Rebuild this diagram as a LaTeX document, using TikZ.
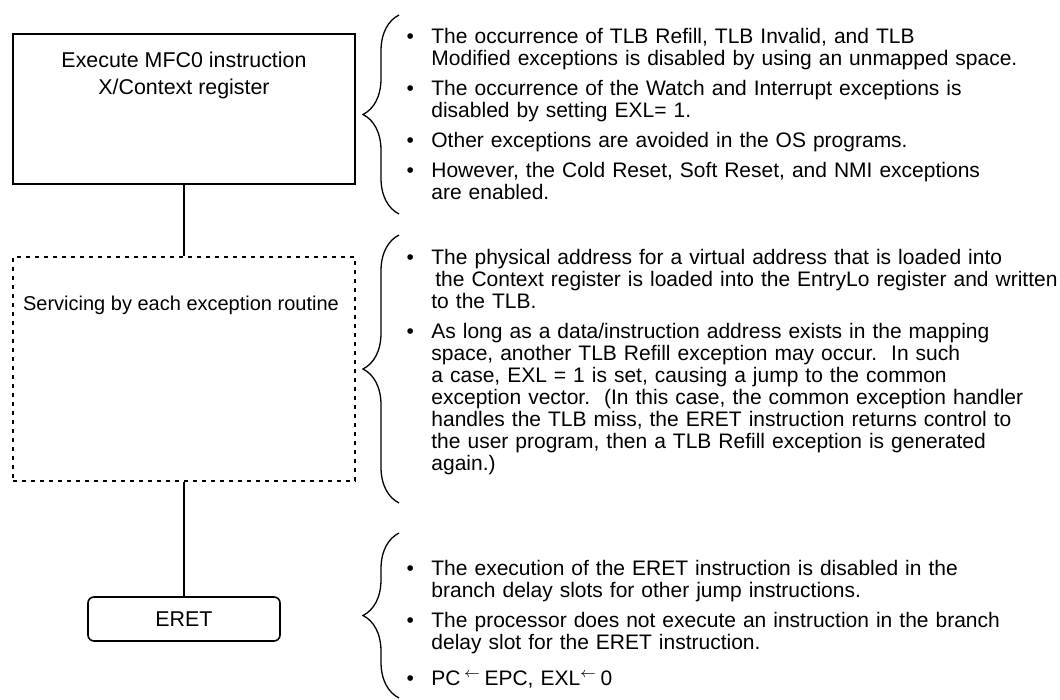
\documentclass[tikz,border=0pt]{standalone}
\usepackage{fontspec}
\setmainfont{Liberation Sans}
\usepackage{enumitem}
\usetikzlibrary{positioning, decorations.pathreplacing}

\newcommand{\notefont}{\fontsize{10.5}{11}\selectfont}
\newcommand{\boxfont}{\fontsize{10.7}{13.5}\selectfont}
\newlist{notes}{itemize}{1}
\setlist[notes]{label=\textbullet, leftmargin=11pt, labelsep=8.75pt,
  itemsep=4pt, parsep=0pt, topsep=0pt, partopsep=0pt}

\tikzset{
  stepbox/.style={rectangle, draw, line width=0.8pt, minimum width=171pt,
    inner sep=0pt},
  dashbox/.style={stepbox, dash pattern=on 2pt off 2.5pt, line width=0.9pt},
  eretbox/.style={rectangle, draw, line width=0.8pt, rounded corners=3pt,
    minimum width=96pt, minimum height=22pt, font=\boxfont},
  boxtext/.style={align=center, inner sep=0pt, font=\boxfont},
  notelist/.style={anchor=north west, text width=340pt, inner sep=0pt,
    font=\notefont},
  bracket/.style={decorate, decoration={brace, amplitude=18pt},
    line width=0.65pt},
  line/.style={line width=0.7pt}
}

\begin{document}
\begin{tikzpicture}[x=0.5pt, y=-0.5pt]
  \useasboundingbox (0,0) rectangle (1060,700);

  % -- flow on the left --------------------------------------------------
  \node[stepbox, minimum height=75pt] (mfc) at (184,109) {};
  \node[boxtext, below=9pt of mfc.north] (mfctext)
    {Execute MFC0 instruction\\X/Context register};

  \node[dashbox, minimum height=112pt] (serv) at (184,369) {};
  \node[boxtext, font=\fontsize{10}{12}\selectfont, below=20pt of serv.north,
    xshift=-1.5pt] (servtext) {Servicing by each exception routine};

  \node[eretbox] (eret) at (184,619) {ERET};

  \draw[line] (mfc.south)  -- (serv.north);
  \draw[line] (serv.south) -- (eret.north);

  % -- braces --------------------------------------------------------------
  \coordinate (b1top) at (399,15);
  \coordinate (b1bot) at (399,214);
  \coordinate (b2top) at (399,235);
  \coordinate (b2bot) at (399,503);
  \coordinate (b3top) at (399,533);
  \coordinate (b3bot) at (399,698);
  \draw[bracket] (b1bot) -- (b1top);
  \draw[bracket] (b2bot) -- (b2top);
  \draw[bracket] (b3bot) -- (b3top);

  % -- notes beside each step ---------------------------------------------
  \node[notelist] (notes1) at (409,21) {%
    \begin{notes}
      \item The occurrence of TLB Refill, TLB Invalid, and TLB\\
            Modified exceptions is disabled by using an unmapped space.
      \item The occurrence of the Watch and Interrupt exceptions is\\
            disabled by setting EXL= 1.
      \item Other exceptions are avoided in the OS programs.
      \item However, the Cold Reset, Soft Reset, and NMI exceptions\\
            are enabled.
    \end{notes}};

  \node[notelist] (notes2) at (409,242) {%
    \begin{notes}
      \item The physical address for a virtual address that is loaded into\\
            \hspace*{2pt}the Context register is loaded into the EntryLo register and written\\
            to the TLB.
      \item As long as a data/instruction address exists in the mapping\\
            space, another TLB Refill exception may occur.\ \ In such\\
            a case, EXL = 1 is set, causing a jump to the common\\
            exception vector.\ \ (In this case, the common exception handler\\
            handles the TLB miss, the ERET instruction returns control to\\
            the user program, then a TLB Refill exception is generated\\
            again.)
    \end{notes}};

  \node[notelist] (notes3) at (409,553) {%
    \begin{notes}
      \item The execution of the ERET instruction is disabled in the\\
            branch delay slots for other jump instructions.
      \item The processor does not execute an instruction in the branch\\
            delay slot for the ERET instruction.\vspace{3pt}
      \item PC\,$^{\leftarrow}$\,EPC, EXL$^{\leftarrow}$\,0
    \end{notes}};
\end{tikzpicture}
\end{document}
